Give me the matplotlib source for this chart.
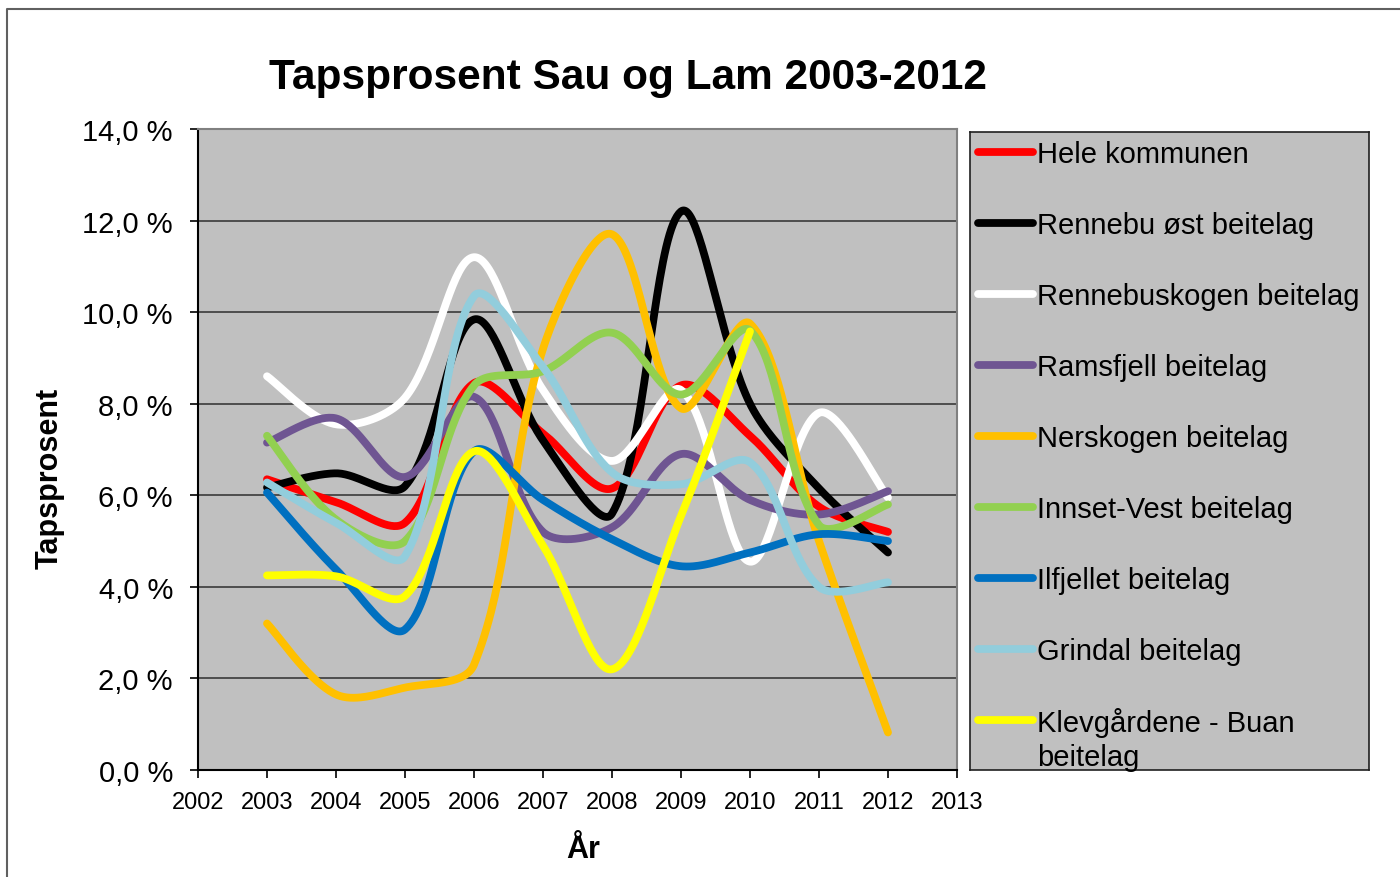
import matplotlib
matplotlib.use("Agg")
import matplotlib.pyplot as plt
import numpy as np
from matplotlib.ticker import FuncFormatter, MultipleLocator
from matplotlib.lines import Line2D

plt.rcParams['font.family'] = ['Liberation Sans', 'DejaVu Sans']

years = [2003, 2004, 2005, 2006, 2007, 2008, 2009, 2010, 2011, 2012]

hele_kommunen = [6.35, 5.85, 5.4, 8.45, 7.35, 6.15, 8.4, 7.3, 5.75, 5.2]
rennebu_ost = [6.17, 6.48, 6.2, 9.84, 7.2, 5.6, 12.2, 8.0, 6.15, 4.75]
rennebuskogen = [8.6, 7.55, 8.13, 11.2, 8.3, 6.75, 8.3, 4.55, 7.8, 5.95]
ramsfjell = [7.15, 7.68, 6.4, 8.15, 5.2, 5.3, 6.9, 5.9, 5.58, 6.09]
nerskogen = [3.2, 1.65, 1.8, 2.3, 9.2, 11.7, 7.9, 9.75, 5.0, 0.82]
innset_vest = [7.3, 5.47, 5.0, 8.4, 8.71, 9.55, 8.2, 9.6, 5.35, 5.8]
ilfjellet = [6.06, 4.38, 3.07, 6.96, 5.9, 5.04, 4.45, 4.75, 5.15, 5.0]
grindal = [6.28, 5.4, 4.67, 10.35, 8.8, 6.5, 6.24, 6.72, 4.0, 4.1]
klevgardene = [4.25, 4.23, 3.8, 6.96, 4.9, 2.2, 5.55, 9.58, None, None]

labels = ['Hele kommunen', 'Rennebu øst beitelag', 'Rennebuskogen beitelag',
          'Ramsfjell beitelag', 'Nerskogen beitelag', 'Innset-Vest beitelag',
          'Ilfjellet beitelag', 'Grindal beitelag', 'Klevgårdene - Buan\nbeitelag']
colors = ['#FF0000', '#000000', '#FFFFFF', '#6F5592', '#FFC000', '#92D050',
          '#0070C0', '#92CDDC', '#FFFF00']
series = [hele_kommunen, rennebu_ost, rennebuskogen, ramsfjell, nerskogen,
          innset_vest, ilfjellet, grindal, klevgardene]

W, H = 1400, 878
PX_YEAR, PX_UNIT = 69.0, 45.85   # screen scale of the plot, used for the smoothing


def smooth(xs, ys, n=40):
    # excel-like smoothed line: bezier, tangents scaled by chord length on screen
    pts = np.array([(x, y) for x, y in zip(xs, ys) if y is not None], dtype=float)
    pts = pts * [PX_YEAR, PX_UNIT]
    t = np.linspace(0, 1, n)[:, None]
    out = []
    m = len(pts)
    for i in range(m - 1):
        p1, p2 = pts[i], pts[i + 1]
        l12 = np.hypot(*(p2 - p1))
        if i == 0:
            b1 = p1 + (p2 - p1) / 6
        else:
            p0 = pts[i - 1]
            l01 = np.hypot(*(p1 - p0))
            b1 = p1 + (p2 - p0) * l12 / (l01 + l12) / 3
        if i == m - 2:
            b2 = p2 - (p2 - p1) / 6
        else:
            p3 = pts[i + 2]
            l23 = np.hypot(*(p3 - p2))
            b2 = p2 - (p3 - p1) * l12 / (l12 + l23) / 3
        seg = (1 - t) ** 3 * p1 + 3 * (1 - t) ** 2 * t * b1 + 3 * (1 - t) * t ** 2 * b2 + t ** 3 * p2
        out.append(seg if i == 0 else seg[1:])
    c = np.vstack(out) / [PX_YEAR, PX_UNIT]
    return c[:, 0], c[:, 1]


fig = plt.figure(figsize=(W / 100, H / 100), dpi=100)
fig.patch.set_facecolor('white')

ax = fig.add_axes([198 / W, 1 - 771 / H, 759 / W, 641 / H])
ax.set_facecolor('#C0C0C0')

for vals, col in zip(series, colors):
    sx, sy = smooth(years, vals)
    ax.plot(sx, sy, color=col, lw=5.6, solid_capstyle='round', solid_joinstyle='round', zorder=3)

ax.set_xlim(2002, 2013)
ax.set_ylim(0, 14)
ax.xaxis.set_major_locator(MultipleLocator(1))
ax.yaxis.set_major_locator(MultipleLocator(2))
ax.yaxis.set_major_formatter(FuncFormatter(lambda v, p: f"{v:.1f}".replace('.', ',') + " %"))
ax.xaxis.set_major_formatter(FuncFormatter(lambda v, p: f"{int(round(v))}"))
ax.grid(axis='y', color='#3a3a3a', lw=1.2, zorder=1)
ax.set_axisbelow(True)
ax.tick_params(axis='y', direction='out', length=6, width=1.2, pad=12, labelsize=21)
ax.tick_params(axis='x', direction='out', length=6, width=1.2, pad=9, labelsize=17)
for s in ['left', 'bottom']:
    ax.spines[s].set_color('black')
    ax.spines[s].set_linewidth(1.5)
for s in ['top', 'right']:
    ax.spines[s].set_color('#808080')
    ax.spines[s].set_linewidth(1.5)

fig.text(628 / W, 1 - 78 / H, 'Tapsprosent Sau og Lam 2003-2012', ha='center', va='center',
         fontsize=30.5, fontweight='bold')
fig.text(50 / W, 1 - 478 / H, 'Tapsprosent', rotation=90, ha='center', va='center',
         fontsize=22, fontweight='bold')
fig.text(583 / W, 1 - 850 / H, 'År', ha='center', va='center', fontsize=22, fontweight='bold')

# legend box drawn by hand to follow the reference layout
lax = fig.add_axes([970 / W, 1 - 771 / H, 399 / W, 638 / H])
lax.set_facecolor('#C0C0C0')
lax.set_xlim(970, 1369)
lax.set_ylim(771, 133)
lax.set_xticks([])
lax.set_yticks([])
for s in lax.spines.values():
    s.set_color('#202020')
    s.set_linewidth(1.2)
row0, pitch, line_h = 153, 71, 34
for i, (lab, col) in enumerate(zip(labels, colors)):
    yc = row0 + i * pitch
    lax.plot([978, 1033], [yc, yc], color=col, lw=5.6, solid_capstyle='round')
    nlines = lab.count('\n') + 1
    lax.text(1037, yc + 2 + (nlines - 1) * line_h / 2, lab, ha='left', va='center',
             fontsize=21, linespacing=1.25)

# outer chart frame
fig.add_artist(Line2D([7 / W, 7 / W, 1.0], [0.0, 1 - 10 / H, 1 - 10 / H],
                      transform=fig.transFigure, color='#606060', lw=1.5))

fig.savefig('out.png', dpi=100)
